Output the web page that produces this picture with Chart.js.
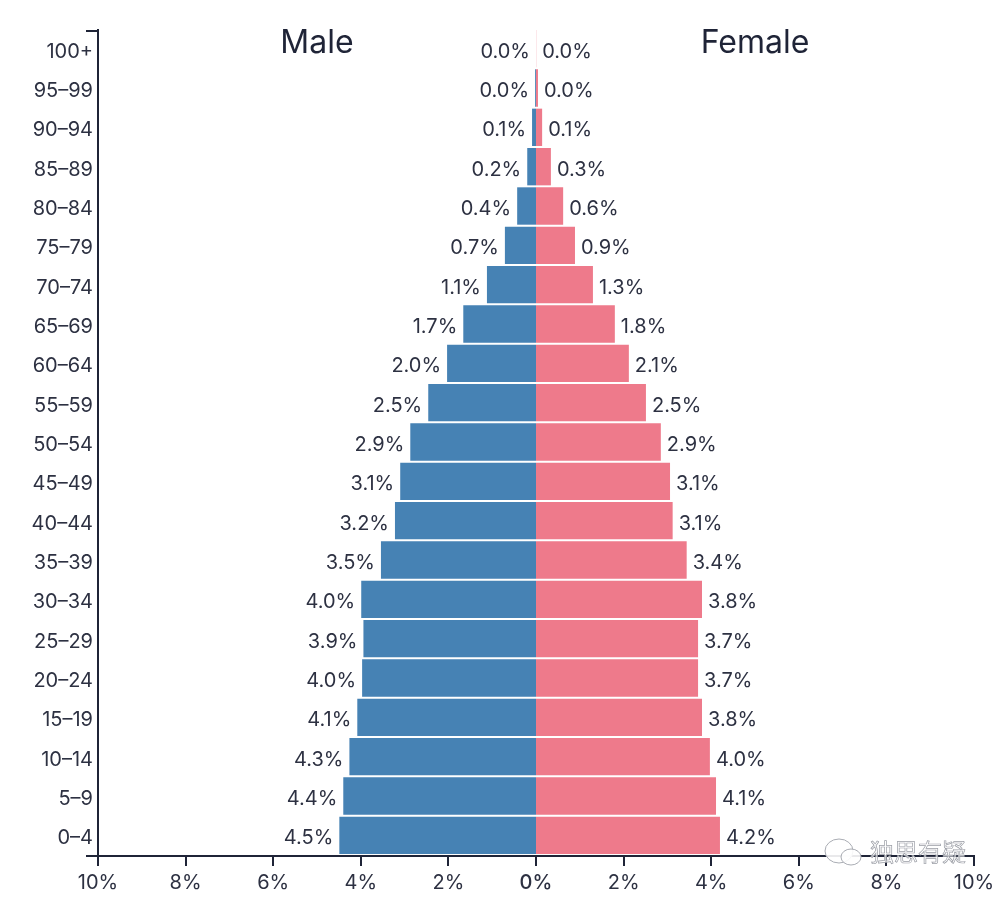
<!DOCTYPE html>
<html>
<head>
<meta charset="utf-8">
<title>Population pyramid</title>
<script src="https://cdn.jsdelivr.net/npm/chart.js@4/dist/chart.umd.min.js"></script>
<style>
  html, body { margin: 0; background: #fff; }
  canvas { display: block; }
</style>
</head>
<body>
<canvas id="chart" width="1000" height="897"></canvas>
<script>
const ageGroups = ['0–4', '5–9', '10–14', '15–19', '20–24', '25–29', '30–34', '35–39', '40–44', '45–49', '50–54',
  '55–59', '60–64', '65–69', '70–74', '75–79', '80–84', '85–89', '90–94', '95–99', '100+'];
const maleShare = [4.49, 4.40, 4.26, 4.08, 3.97, 3.94, 3.99, 3.54, 3.22, 3.10, 2.87,
  2.46, 2.03, 1.66, 1.12, 0.71, 0.43, 0.20, 0.09, 0.02, 0.00];
const femaleShare = [4.20, 4.11, 3.97, 3.79, 3.70, 3.70, 3.79, 3.44, 3.12, 3.06, 2.85,
  2.51, 2.12, 1.80, 1.30, 0.89, 0.62, 0.34, 0.14, 0.045, 0.004];
const xTicks = [-10, -8, -6, -4, -2, 0, 2, 4, 6, 8, 10];
const seriesNames = ['Male', 'Female'];
const watermark = '独思有疑';

const FONT = 'Inter, "Noto Sans", "Noto Sans CJK SC", sans-serif';
const INK = '#1f2437';
const TEXT = '#2d3142';

// bar value labels, side headings, axis end caps and watermark
const pyramidExtras = {
  id: 'pyramidExtras',
  beforeDatasetsDraw(chart) {
    // bars sit a pixel above the band centre in the original
    chart.ctx.save();
    chart.ctx.translate(0, -1);
  },
  afterDatasetsDraw(chart) {
    chart.ctx.restore();
    const ctx = chart.ctx;
    const x = chart.scales.x;
    const y = chart.scales.y;
    const area = chart.chartArea;
    ctx.save();

    ctx.font = '20px ' + FONT;
    ctx.fillStyle = TEXT;
    ctx.textBaseline = 'middle';
    ageGroups.forEach((g, i) => {
      const py = y.getPixelForValue(i) + 2;
      ctx.textAlign = 'right';
      ctx.fillText(maleShare[i].toFixed(1) + '%', x.getPixelForValue(-maleShare[i]) - 6, py);
      ctx.textAlign = 'left';
      ctx.fillText(femaleShare[i].toFixed(1) + '%', x.getPixelForValue(femaleShare[i]) + 6, py);
    });

    ctx.font = '32px ' + FONT;
    ctx.fillStyle = INK;
    ctx.textAlign = 'center';
    ctx.fillText(seriesNames[0], x.getPixelForValue(-5), 43);
    ctx.fillText(seriesNames[1], x.getPixelForValue(5), 43);

    ctx.strokeStyle = INK;
    ctx.lineWidth = 2;
    ctx.beginPath();
    ctx.moveTo(area.left - 12, area.top + 1);
    ctx.lineTo(area.left, area.top + 1);
    ctx.moveTo(area.left - 12, area.bottom);
    ctx.lineTo(area.left, area.bottom);
    // zero tick has no grid width, otherwise chart.js leaves a gap between the bars
    ctx.moveTo(x.getPixelForValue(0), area.bottom);
    ctx.lineTo(x.getPixelForValue(0), area.bottom + 10);
    ctx.stroke();

    // faint WeChat style bubbles + account name over the corner
    ctx.fillStyle = 'rgba(255,255,255,0.9)';
    ctx.strokeStyle = '#a9acb3';
    ctx.lineWidth = 1;
    ctx.beginPath();
    ctx.ellipse(839, 851, 14, 12, 0, 0, Math.PI * 2);
    ctx.fill();
    ctx.stroke();
    ctx.beginPath();
    ctx.ellipse(851, 857, 10, 8, 0, 0, Math.PI * 2);
    ctx.fill();
    ctx.stroke();
    ctx.font = '24px "Noto Sans CJK SC"';
    ctx.textAlign = 'left';
    ctx.fillStyle = 'rgba(255,255,255,0.75)';
    ctx.fillText(watermark, 870, 852);
    ctx.strokeStyle = '#9a9da5';
    ctx.lineWidth = 0.7;
    ctx.strokeText(watermark, 870, 852);
    ctx.restore();
  }
};

new Chart(document.getElementById('chart'), {
  type: 'bar',
  data: {
    labels: ageGroups,
    datasets: [
      { label: seriesNames[0], data: maleShare.map(v => -v), backgroundColor: '#4682b4' },
      { label: seriesNames[1], data: femaleShare, backgroundColor: '#ee7a8b' }
    ]
  },
  options: {
    indexAxis: 'y',
    responsive: false,
    animation: false,
    layout: { padding: { top: 30, right: 26, bottom: 0, left: 0 } },
    datasets: { bar: { categoryPercentage: 1, barPercentage: 0.95 } },
    plugins: { legend: { display: false }, tooltip: { enabled: false } },
    scales: {
      x: {
        type: 'linear',
        stacked: true,
        min: -10,
        max: 10,
        afterFit: scale => { scale.height = 41; },
        afterBuildTicks: scale => { scale.ticks = xTicks.map(value => ({ value })); },
        border: { color: INK, width: 2 },
        grid: {
          drawOnChartArea: false,
          color: INK,
          lineWidth: ctx => (ctx.tick && ctx.tick.value === 0 ? 0 : 2),
          tickLength: 10
        },
        ticks: {
          color: TEXT,
          font: ctx => ({ family: FONT, size: 20, weight: ctx.tick && ctx.tick.value === 0 ? '500' : '400' }),
          padding: 5,
          maxRotation: 0,
          callback: v => Math.abs(v) + '%'
        }
      },
      y: {
        stacked: true,
        reverse: true,
        afterFit: scale => { scale.width = 98; },
        border: { color: INK, width: 2 },
        grid: { display: true, drawOnChartArea: false, drawTicks: false },
        ticks: {
          color: TEXT,
          font: { family: FONT, size: 20 },
          padding: 5,
          labelOffset: 2,
          autoSkip: false
        }
      }
    }
  },
  plugins: [pyramidExtras]
});
</script>
</body>
</html>
